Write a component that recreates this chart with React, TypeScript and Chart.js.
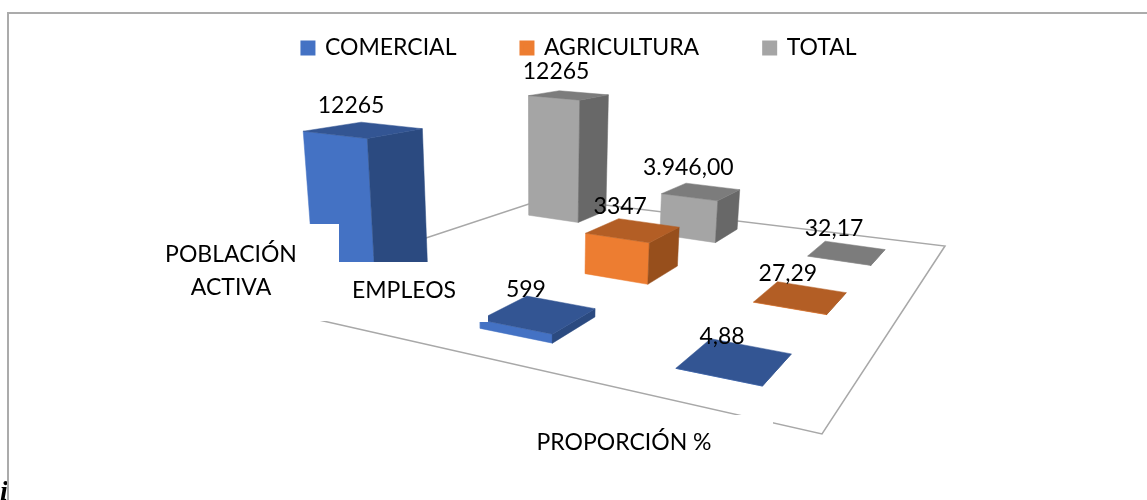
import React, { useEffect, useRef } from "react";
import { Chart, registerables } from "chart.js";

Chart.register(...registerables);

const categories = ["POBLACIÓN ACTIVA", "EMPLEOS", "PROPORCIÓN %"];
const seriesNames = ["COMERCIAL", "AGRICULTURA", "TOTAL"];
const comercial = [12265, 599, 4.88];
const agricultura = [null, 3347, 27.29];
const total = [12265, 3946, 32.17];
const comercialLabels = ["12265", "599", "4,88"];
const agriculturaLabels = ["", "3347", "27,29"];
const totalLabels = ["12265", "3.946,00", "32,17"];

const seriesValues = [comercial, agricultura, total];
const seriesLabels = [comercialLabels, agriculturaLabels, totalLabels];
const frontColors = ["#4472C4", "#ED7D31", "#A5A5A5"];
const topColors = ["#335593", "#B35E25", "#7C7C7C"];
const sideColors = ["#2B4A80", "#974F1C", "#686868"];

const W = 1147;
const H = 500;
const FONT = "Lato, Carlito, sans-serif";
const TEXT_SIZE = 23;

// camera: where the grid of bar-base centres lands on the canvas
const Q = [[373, 290], [735, 361], [847, 253], [568, 213]];
const HALF_U = 0.195;
const HALF_V = 0.2;
const HEIGHT_K = 0.0096;
const LEAN_X = 540;
const LEAN_D = 3000;

const [[x0, y0], [x1, y1], [x2, y2], [x3, y3]] = Q;
const dx1 = x1 - x2, dx2 = x3 - x2, sx = x0 - x1 + x2 - x3;
const dy1 = y1 - y2, dy2 = y3 - y2, sy = y0 - y1 + y2 - y3;
const det = dx1 * dy2 - dx2 * dy1;
const g = (sx * dy2 - dx2 * sy) / det;
const h = (dx1 * sy - sx * dy1) / det;
const a = x1 - x0 + g * x1, b = x3 - x0 + h * x3;
const d = y1 - y0 + g * y1, e = y3 - y0 + h * y3;

function project(i: number, j: number, value: number) {
  const u = i / 2, v = j / 2;
  const w = g * u + h * v + 1;
  const bx = (a * u + b * v + x0) / w;
  const by = (d * u + e * v + y0) / w;
  const px = (value * HEIGHT_K * (1 + h)) / w;
  return { x: bx - ((LEAN_X - bx) / LEAN_D) * px, y: by - px };
}

const FLOOR = [{ x: 235, y: 301 }, { x: 822, y: 434 }, { x: 945, y: 246 }, { x: 547, y: 198 }, { x: 235, y: 301 }];
const MASKS = [
  [160, 224, 179, 97],
  [339, 262, 149, 60],
  [530, 415, 243, 45],
];
const AXIS_TEXT = [
  { lines: ["POBLACIÓN", "ACTIVA"], x: 231, y: 255, step: 33 },
  { lines: [categories[1]], x: 404, y: 291, step: 0 },
  { lines: [categories[2]], x: 624, y: 443, step: 0 },
];
const LABEL_DX = -13;
const LABEL_DY = -24;

function face(pts: { x: number; y: number }[], color: string) {
  return {
    data: [...pts, pts[0]],
    backgroundColor: color,
    borderColor: color,
    borderWidth: 0.5,
    fill: "shape",
    pointRadius: 0,
    tension: 0,
  };
}

function buildDatasets() {
  const painted: any[] = [];
  painted.push({
    data: FLOOR,
    borderColor: "#A8A8A8",
    backgroundColor: "rgba(0,0,0,0)",
    borderWidth: 1.5,
    fill: false,
    pointRadius: 0,
    tension: 0,
  });
  for (let j = 2; j >= 0; j--) {
    for (let i = 0; i < 3; i++) {
      const val = seriesValues[j][i];
      if (val === null) continue;
      const c = (iu: number, jv: number, vv: number) =>
        project(i + iu * HALF_U, j + jv * HALF_V, vv);
      painted.push(face([c(-1, -1, 0), c(1, -1, 0), c(1, -1, val), c(-1, -1, val)], frontColors[j]));
      painted.push(face([c(1, -1, 0), c(1, 1, 0), c(1, 1, val), c(1, -1, val)], sideColors[j]));
      painted.push(face([c(-1, -1, val), c(1, -1, val), c(1, 1, val), c(-1, 1, val)], topColors[j]));
    }
  }
  return painted.reverse();
}

const reportPlugin = {
  id: "reportPlugin",
  beforeLayout(chart: any) {
    chart.legend.isHorizontal = () => true;
  },
  afterLayout(chart: any) {
    const lg = chart.legend;
    const pad = lg.options.labels.padding;
    lg.top = 48 - TEXT_SIZE / 2 - pad;
    lg.left = 6;
    lg.right = W + 6;
  },
  beforeDraw(chart: any) {
    const ctx = chart.ctx;
    ctx.save();
    ctx.fillStyle = "#fff";
    ctx.fillRect(0, 0, W, H);
    ctx.fillStyle = "#000";
    ctx.font = "italic bold 28px 'Liberation Serif'";
    ctx.textBaseline = "alphabetic";
    ctx.textAlign = "left";
    ctx.fillText("i", 0, 500);
    ctx.strokeStyle = "#ABABAB";
    ctx.lineWidth = 2;
    ctx.beginPath();
    ctx.moveTo(8, H);
    ctx.lineTo(8, 13);
    ctx.lineTo(W, 13);
    ctx.stroke();
    ctx.restore();
  },
  afterDatasetsDraw(chart: any) {
    const ctx = chart.ctx;
    const xs = chart.scales.x;
    const ys = chart.scales.y;
    ctx.save();
    ctx.fillStyle = "#fff";
    MASKS.forEach(([x, y, w, hh]) => ctx.fillRect(x, y, w, hh));
    ctx.fillStyle = "#000";
    ctx.font = `${TEXT_SIZE}px ${FONT}`;
    ctx.textAlign = "center";
    ctx.textBaseline = "middle";
    AXIS_TEXT.forEach((t) => t.lines.forEach((ln, n) => ctx.fillText(ln, t.x, t.y + n * t.step)));
    seriesValues.forEach((vals, j) =>
      vals.forEach((val, i) => {
        if (val === null) return;
        const p = project(i, j, val);
        ctx.fillText(
          seriesLabels[j][i],
          xs.getPixelForValue(p.x) + LABEL_DX,
          ys.getPixelForValue(p.y) + LABEL_DY
        );
      })
    );
    ctx.restore();
  },
};

export default function App() {
  const ref = useRef<HTMLCanvasElement>(null);
  useEffect(() => {
    const chart = new Chart(ref.current as HTMLCanvasElement, {
      type: "line",
      data: { datasets: buildDatasets() },
      plugins: [reportPlugin],
      options: {
        animation: false,
        responsive: false,
        devicePixelRatio: 1,
        events: [],
        layout: { padding: 0 },
        scales: {
          x: { type: "linear", min: 0, max: W, display: false },
          y: { type: "linear", min: 0, max: H, reverse: true, display: false },
        },
        plugins: {
          tooltip: { enabled: false },
          legend: {
            position: "chartArea",
            labels: {
              padding: 65,
              boxWidth: 11,
              boxHeight: 11,
              color: "#000",
              font: { family: FONT, size: TEXT_SIZE },
              generateLabels: () =>
                seriesNames.map((text, k) => ({
                  text,
                  fillStyle: frontColors[k],
                  strokeStyle: frontColors[k],
                  lineWidth: 4,
                  hidden: false,
                  datasetIndex: k,
                })),
            },
          },
        },
      },
    } as any);
    return () => chart.destroy();
  }, []);
  return (
    <div style={{ position: "absolute", left: 0, top: 0, width: W, height: H, overflow: "hidden" }}>
      <canvas ref={ref} width={W} height={H} style={{ display: "block" }} />
    </div>
  );
}
